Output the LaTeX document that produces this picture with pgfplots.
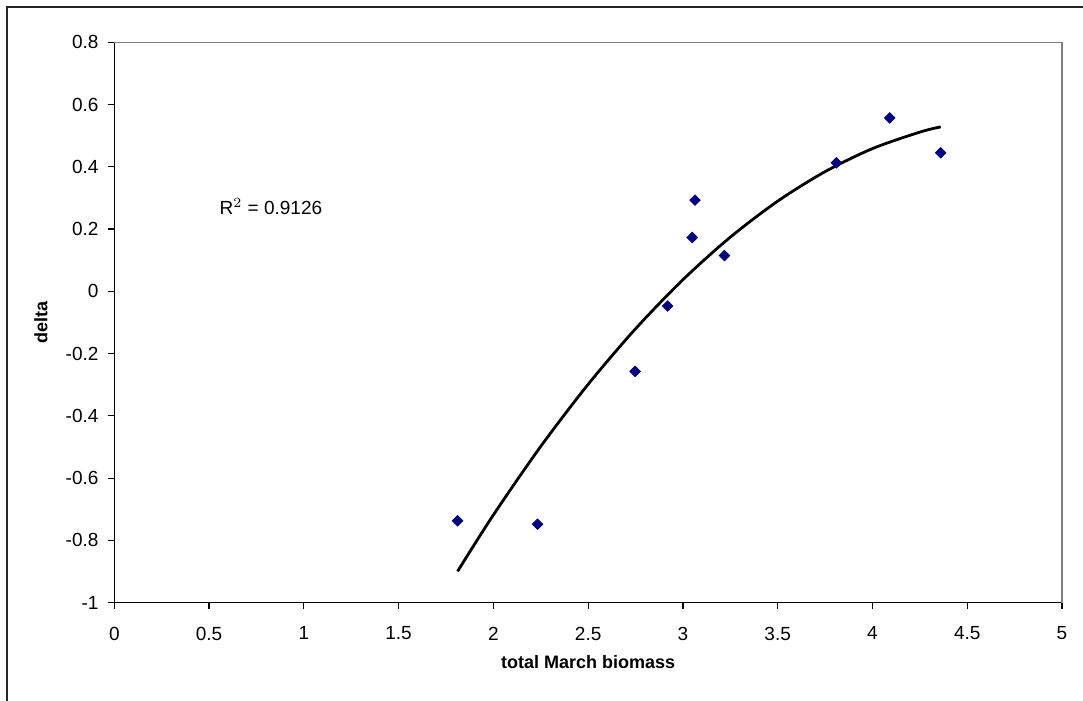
\documentclass[border=0pt]{standalone}
\usepackage{fontspec}
\setmainfont{Liberation Sans}
\usepackage{pgfplots}
\pgfplotsset{compat=1.18}
\definecolor{navy}{RGB}{0,0,128}
\definecolor{framegray}{RGB}{128,128,128}
\begin{document}
\begin{tikzpicture}
\path[use as bounding box] (0,0) rectangle (541.5pt,350.5pt);
\draw[line width=0.8pt, black!85] (3.5pt,-10pt) -- (3.5pt,347pt) -- (560pt,347pt);
\begin{axis}[
  at={(57.15pt,49.15pt)}, anchor=south west,
  scale only axis, width=473.85pt, height=280.2pt,
  xmin=0, xmax=5, ymin=-1, ymax=0.8,
  xtick={0,0.5,...,5}, ytick={-1,-0.8,...,0.8},
  axis x line*=bottom, axis y line*=left,
  axis line style={black, line width=0.6pt},
  tick align=outside, major tick length=3pt,
  tick style={black, line width=0.6pt},
  /pgf/number format/assume math mode=true,
  /pgf/number format/fixed,
  ticklabel style={font=\fontsize{9.5}{11}\selectfont},
  xticklabel style={yshift=-5.5pt},
  yticklabel style={xshift=-1.4pt},
  xlabel={total March biomass}, ylabel={delta},
  label style={font=\bfseries\fontsize{9}{11}\selectfont},
  xlabel style={at={(axis description cs:0.5,0)}, anchor=center, yshift=-29.5pt},
  ylabel style={at={(axis description cs:0,0.5)}, anchor=center, rotate=0, yshift=36.7pt},
  clip=false,
]
\draw[framegray, line width=0.7pt] (rel axis cs:0,1) -- (rel axis cs:1,1) -- (rel axis cs:1,0);
\addplot[black, line width=1.4pt, smooth] coordinates {
 (1.811,-0.8995) (2.0,-0.7181) (2.25,-0.4979) (2.5,-0.2986) (2.75,-0.1202)
 (3.0,0.0374) (3.25,0.1740) (3.5,0.2897) (3.75,0.3845) (4.0,0.4585)
 (4.25,0.5115) (4.36,0.5283)
};
\addplot[only marks, mark=square*, mark size=1.85pt, navy,
  mark options={rotate=45, fill=navy, draw=navy}] coordinates {
 (1.811,-0.737) (2.233,-0.748) (2.748,-0.257) (2.919,-0.047) (3.049,0.173)
 (3.064,0.293) (3.219,0.115) (3.810,0.413) (4.091,0.557) (4.360,0.445)
};
\node[anchor=west, font=\fontsize{9.5}{11}\selectfont, inner sep=0pt] at (axis cs:0.554,0.272) {R$^{2}$ = 0.9126};
\end{axis}
\end{tikzpicture}
\end{document}
